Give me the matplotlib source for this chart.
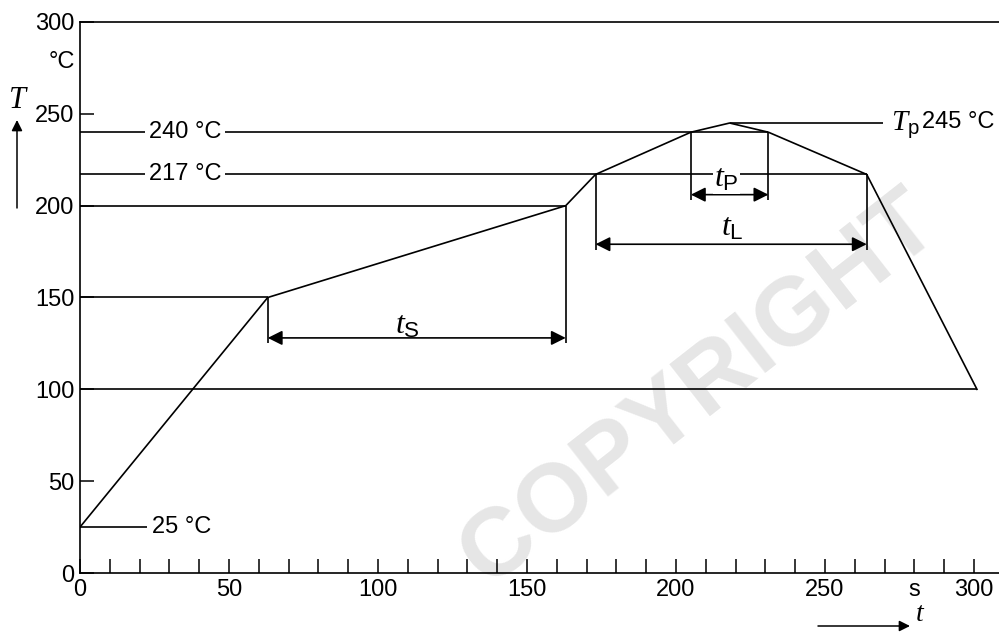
import matplotlib
matplotlib.use("Agg")
import matplotlib.pyplot as plt

plt.rcParams['font.family'] = ['Liberation Sans', 'DejaVu Sans']
plt.rcParams['mathtext.fontset'] = 'custom'
plt.rcParams['mathtext.rm'] = 'Liberation Sans'
plt.rcParams['mathtext.it'] = 'Liberation Serif:italic'

# reflow profile corner points (time s, temperature °C)
prof_t = [0, 63, 163, 173, 205, 218, 231, 264, 301]
prof_T = [25, 150, 200, 217, 240, 245, 240, 217, 100]

# dimension arrows: (start, end, level, label, label_x, label_y)
dims = [(63, 163, 128, r'$t_\mathrm{S}$', 110, 135),
        (173, 264, 179, r'$t_\mathrm{L}$', 219, 188),
        (205, 231, 206, r'$t_\mathrm{P}$', 217, 215)]
dim_ends = [125, 176, 203]

xticks = list(range(0, 301, 10))
xlabels = {0: '0', 50: '50', 100: '100', 150: '150', 200: '200', 250: '250', 280: 's', 300: '300'}
yticks = [0, 50, 100, 150, 200, 250, 300]

W, H = 999, 632
fig = plt.figure(figsize=(W / 100, H / 100), dpi=100)
ax = fig.add_axes([80 / W, (H - 573) / H, (W - 80) / W, (573 - 22) / H])
ax.set_xlim(0, (W - 80) / 2.98)
ax.set_ylim(0, 300)

lw = 1.2
for s in ['left', 'bottom', 'top']:
    ax.spines[s].set_linewidth(lw)
ax.spines['right'].set_visible(False)

ax.set_xticks(xticks)
ax.set_xticklabels([xlabels.get(v, '') for v in xticks])
ax.set_yticks(yticks)
ax.tick_params(direction='in', length=10, width=1.1, labelsize=17, pad=4, colors='black')

# watermark, behind everything
ax.text(700 / W, 1 - 390 / H, 'COPYRIGHT', transform=fig.transFigure, fontsize=70,
        color='#e6e6e6', rotation=38, ha='center', va='center', fontweight='bold',
        zorder=0.5, clip_on=False)

# the profile
ax.plot(prof_t, prof_T, color='black', lw=lw, zorder=3)

# horizontal guide lines
ax.hlines(100, 0, prof_t[-1], color='black', lw=lw)
ax.hlines(150, 0, prof_t[1], color='black', lw=lw)
ax.hlines(200, 0, prof_t[2], color='black', lw=lw)
ax.hlines(217, 0, prof_t[7], color='black', lw=lw)
ax.hlines(240, 0, prof_t[6], color='black', lw=lw)
ax.hlines(245, prof_t[5], 269.5, color='black', lw=lw)
ax.hlines(25, 0, 22.5, color='black', lw=lw)

# temperature labels on the lines
for temp in [240, 217]:
    ax.text(35.2, temp, '%d °C' % temp, fontsize=17, ha='center', va='center',
            bbox=dict(facecolor='white', edgecolor='none', pad=2.5), zorder=4)
ax.text(24.2, 25, '25 °C', fontsize=17, ha='left', va='center')
ax.text(272.0, 244, r'$T_\mathrm{p}$', fontsize=21, ha='left', va='center')
ax.text(282.6, 245.5, '245 °C', fontsize=17, ha='left', va='center')

# dimension lines
for (a, b, lev, lab, lx, ly), end in zip(dims, dim_ends):
    top_a = prof_T[prof_t.index(a)]
    top_b = prof_T[prof_t.index(b)]
    ax.vlines(a, end, top_a, color='black', lw=lw)
    ax.vlines(b, end, top_b, color='black', lw=lw)
    ax.annotate('', xy=(b, lev), xytext=(a, lev),
                arrowprops=dict(arrowstyle='<|-|>', color='black', lw=lw,
                                mutation_scale=22, shrinkA=0, shrinkB=0))
    ax.text(lx, ly, lab, fontsize=23, ha='center', va='center', zorder=5,
            bbox=dict(facecolor='white', edgecolor='none', pad=1.0) if 'P' in lab else None)

# axis names with arrows
fig.text(62 / W, 1 - 62 / H, '°C', fontsize=17, ha='center', va='center')
fig.text(18 / W, 1 - 100 / H, r'$T$', fontsize=22, ha='center', va='center')
fig.add_artist(matplotlib.patches.FancyArrowPatch((17, H - 208), (17, H - 120), transform=None,
               arrowstyle='-|>', mutation_scale=16, color='black', lw=1.1, shrinkA=0, shrinkB=0))
fig.text(920 / W, 1 - 614 / H, r'$t$', fontsize=20, ha='center', va='center')
fig.add_artist(matplotlib.patches.FancyArrowPatch((818, H - 626), (910, H - 626), transform=None,
               arrowstyle='-|>', mutation_scale=16, color='black', lw=1.1, shrinkA=0, shrinkB=0))

fig.savefig('out.png', dpi=100)
